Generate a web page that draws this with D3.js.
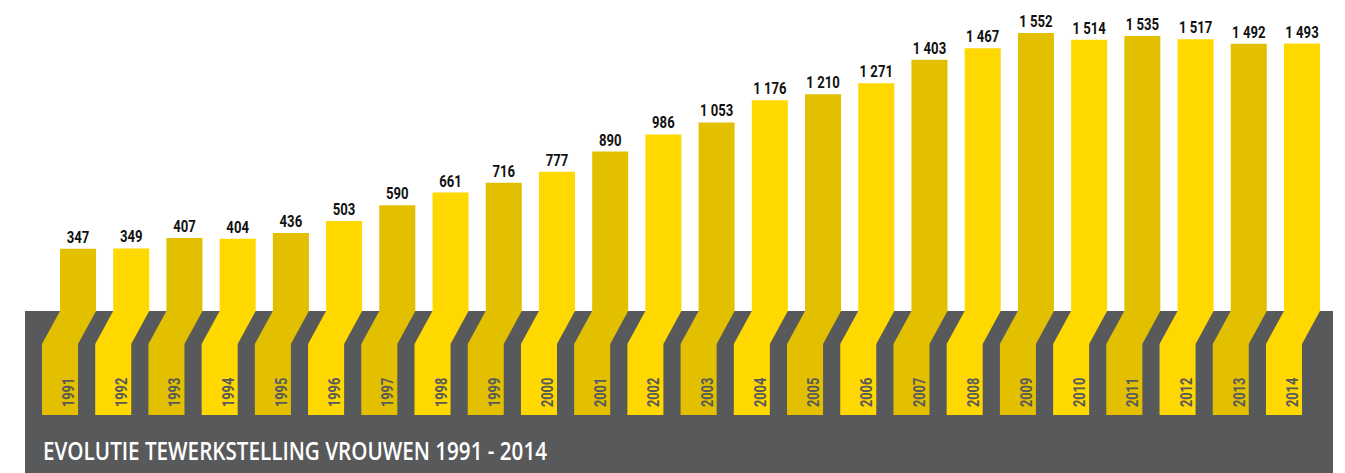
<!DOCTYPE html>
<html>
<head>
<meta charset="utf-8">
<script src="https://cdn.jsdelivr.net/npm/d3@7/dist/d3.min.js"></script>
<style>
  html, body { margin: 0; padding: 0; background: #ffffff; }
  svg { display: block; }
</style>
</head>
<body>
<svg id="chart" width="1345" height="473"></svg>
<script>
// Women in employment, 1991 - 2014
const years = ["1991","1992","1993","1994","1995","1996","1997","1998","1999","2000",
               "2001","2002","2003","2004","2005","2006","2007","2008","2009","2010",
               "2011","2012","2013","2014"];
const values = [347, 349, 407, 404, 436, 503, 590, 661, 716, 777,
                890, 986, 1053, 1176, 1210, 1271, 1403, 1467, 1552, 1514,
                1535, 1517, 1492, 1493];
const title = "EVOLUTIE TEWERKSTELLING VROUWEN 1991 - 2014";

const W = 1345, H = 473;
const baseY = 311;        // top of the grey band
const foldY = 344;        // end of the diagonal fold
const bottomY = 415;      // bottom of the ribbons
const shift = 18;         // horizontal offset of the folded part

const colDark = "#E2C000", colLight = "#FFD800", grey = "#58595B";

const svg = d3.select("#chart");

const x = d3.scaleBand()
  .domain(years)
  .range([60, 1320])
  .paddingInner(0.323)
  .paddingOuter(0);

const y = d3.scaleLinear()
  .domain([0, d3.max(values)])
  .range([baseY, 33]);

const fmt = d3.formatLocale({ decimal: ",", thousands: "\u00a0", grouping: [3], currency: ["", ""] }).format(",d");

// grey band
svg.append("rect")
  .attr("x", 25).attr("y", baseY)
  .attr("width", 1308).attr("height", H - baseY)
  .attr("fill", grey);

const data = years.map((yr, i) => ({ year: yr, value: values[i], i }));

// ribbon-shaped bars
svg.append("g").selectAll("path")
  .data(data)
  .join("path")
  .attr("fill", d => d.i % 2 === 0 ? colDark : colLight)
  .attr("d", d => {
    const x0 = x(d.year), x1 = x0 + x.bandwidth(), yt = y(d.value);
    const p = d3.path();
    p.moveTo(x0, yt);
    p.lineTo(x1, yt);
    p.lineTo(x1, baseY);
    p.lineTo(x1 - shift, foldY);
    p.lineTo(x1 - shift, bottomY);
    p.lineTo(x0 - shift, bottomY);
    p.lineTo(x0 - shift, foldY);
    p.lineTo(x0, baseY);
    p.closePath();
    return p.toString();
  });

// value labels
svg.append("g").selectAll("text")
  .data(data)
  .join("text")
  .attr("transform", d => `translate(${x(d.year) + x.bandwidth() / 2},${y(d.value) - 6}) scale(0.82,1)`)
  .attr("text-anchor", "middle")
  .attr("font-family", "Roboto, 'Liberation Sans', sans-serif")
  .attr("font-weight", 700)
  .attr("font-size", 16)
  .attr("fill", "#111111")
  .text(d => fmt(d.value));

// year labels inside the folded part
svg.append("g").selectAll("text")
  .data(data)
  .join("text")
  .attr("transform", d => `translate(${x(d.year) + x.bandwidth() - shift - 4},${bottomY - 8}) rotate(-90) scale(0.75,1)`)
  .attr("text-anchor", "start")
  .attr("font-family", "Roboto, 'Liberation Sans', sans-serif")
  .attr("font-weight", 700)
  .attr("font-size", 17)
  .attr("fill", grey)
  .text(d => d.year);

// title
svg.append("text")
  .attr("x", 43).attr("y", 460)
  .attr("font-family", "'Open Sans', 'Noto Sans', sans-serif")
  .attr("font-weight", 600)
  .attr("font-size", 25)
  .attr("fill", "#ffffff")
  .attr("textLength", 504)
  .attr("lengthAdjust", "spacingAndGlyphs")
  .text(title);
</script>
</body>
</html>
